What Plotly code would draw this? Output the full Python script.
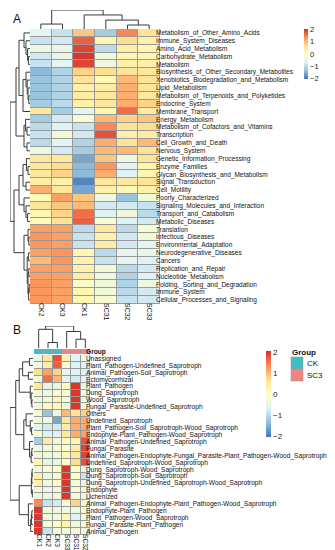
import plotly.graph_objects as go

W, H = 335, 550

# ---------------- Panel A data ----------------
cols_A = ["CK2", "CK3", "CK1", "SC31", "SC32", "SC33"]
rows_A = [
    "Metabolism_of_Other_Amino_Acids", "Immune_System_Diseases", "Amino_Acid_Metabolism",
    "Carbohydrate_Metabolism", "Metabolism", "Biosynthesis_of_Other_Secondary_Metabolites",
    "Xenobiotics_Biodegradation_and_Metabolism", "Lipid_Metabolism",
    "Metabolism_of_Terpenoids_and_Polyketides", "Endocrine_System", "Membrane_Transport",
    "Energy_Metabolism", "Metabolism_of_Cofactors_and_Vitamins", "Transcription",
    "Cell_Growth_and_Death", "Nervous_System", "Genetic_Information_Processing",
    "Enzyme_Families", "Glycan_Biosynthesis_and_Metabolism", "Signal_Transduction",
    "Cell_Motility", "Poorly_Characterized", "Signaling_Molecules_and_Interaction",
    "Transport_and_Catabolism", "Metabolic_Diseases", "Translation", "Infectious_Diseases",
    "Environmental_Adaptation", "Neurodegenerative_Diseases", "Cancers",
    "Replication_and_Repair", "Nucleotide_Metabolism", "Folding,_Sorting_and_Degradation",
    "Immune_System", "Cellular_Processes_and_Signaling",
]
vals_A = [
    [-0.6, -0.9, 0.9, -1.2, 1.4, 0.6],
    [-0.9, -0.8, 1.7, 0.2, 0.7, 0.3],
    [-0.4, -0.5, 1.9, -1.0, 0.4, 0.2],
    [-0.8, -0.5, 2.0, -0.3, 0.2, 0.2],
    [-0.9, -0.6, 1.9, -0.4, 0.3, 0.3],
    [-1.4, -1.1, 0.8, 0.7, 0.6, 0.5],
    [-1.3, -1.1, 0.6, 0.1, 1.0, 0.6],
    [-1.3, -1.1, 0.3, 0.4, 1.1, 0.6],
    [-1.3, -1.1, 0.4, 0.5, 1.1, 0.5],
    [-1.2, -1.0, 0.3, 0.5, 1.1, 0.8],
    [0.5, -1.2, -0.6, 0.2, 1.6, 0.4],
    [-1.2, -0.8, -0.2, 1.0, 0.8, 0.9],
    [-1.0, -0.7, -0.9, 1.4, 0.6, 0.7],
    [-0.9, -0.3, -0.8, 1.8, 0.3, 0.4],
    [-1.0, -0.6, -1.1, 1.1, 0.6, 1.0],
    [-0.4, -0.8, -1.2, 1.0, 1.0, 0.6],
    [0.5, 0.5, -1.6, 0.9, -0.4, 0.6],
    [0.5, 0.7, -1.4, 1.3, -0.6, 0.2],
    [0.5, 0.8, -1.4, 1.1, -0.7, 0.2],
    [0.4, 0.3, -1.9, 0.5, 0.5, 0.6],
    [1.1, 0.5, -1.6, 0.3, 0.2, 0.3],
    [0.1, 1.2, 0.9, -0.4, -1.3, -0.3],
    [0.6, 0.9, 1.0, -0.8, -0.8, -0.9],
    [0.2, 0.8, 1.6, -0.7, -0.3, -1.0],
    [0.1, 0.6, 1.7, -0.2, -0.7, -0.8],
    [1.2, 1.2, -1.0, 0.5, -1.0, -0.2],
    [1.3, 1.2, -0.9, 0.3, -0.8, -0.3],
    [1.3, 1.2, -0.9, 0.4, -0.8, -0.6],
    [1.2, 1.3, 0.2, -1.0, -0.6, -0.5],
    [1.0, 1.3, 0.3, -0.9, -0.6, -0.7],
    [1.2, 1.2, 0.3, -0.3, -1.0, -0.8],
    [1.2, 1.2, 0.4, -0.4, -1.1, -0.7],
    [1.3, 1.2, -0.1, -0.3, -1.1, -0.4],
    [1.3, 1.2, 0.2, -0.3, -1.0, -0.8],
    [1.3, 1.2, 0.2, -0.2, -0.9, -0.8],
]
# linkage lists: (child_a, child_b, height); leaves 0..n-1, merge k -> n+k
col_link_A = [(0, 1, 0.26), (4, 5, 0.21), (3, 7, 0.47), (2, 8, 0.74), (6, 9, 1.0)]
row_link_A = [
    (3, 4, 0.08), (2, 35, 0.12), (1, 36, 0.2), (0, 37, 0.3),          # 35-38
    (8, 9, 0.06), (7, 39, 0.1), (6, 40, 0.14), (5, 41, 0.2),          # 39-42
    (42, 10, 0.35), (38, 43, 0.55),                                    # 43-44
    (12, 13, 0.15), (11, 45, 0.22), (14, 15, 0.15), (46, 47, 0.3),    # 45-48
    (44, 48, 0.7),                                                     # 49
    (17, 18, 0.1), (16, 50, 0.18), (19, 20, 0.2), (51, 52, 0.35),     # 50-53
    (23, 24, 0.12), (22, 54, 0.2), (21, 55, 0.3), (53, 56, 0.55),     # 54-57
    (26, 27, 0.06), (25, 58, 0.1), (28, 29, 0.08), (30, 31, 0.06),    # 58-61
    (32, 33, 0.04), (62, 34, 0.07), (61, 63, 0.1), (60, 64, 0.14),    # 62-65
    (59, 65, 0.3), (57, 66, 0.8), (49, 67, 1.0),                      # 66-68
]

# ---------------- Panel B data ----------------
cols_B = ["CK1", "CK2", "CK3", "SC33", "SC31", "SC32"]
groups_B = ["CK", "CK", "CK", "SC3", "SC3", "SC3"]
group_names = ["CK", "SC3"]
group_colors = ["#3FBEC5", "#F2847F"]
rows_B = [
    "Unassigned", "Plant_Pathogen-Undefined_Saprotroph", "Animal_Pathogen-Soil_Saprotroph",
    "Ectomycorrhizal", "Plant_Pathogen", "Dung_Saprotroph", "Wood_Saprotroph",
    "Fungal_Parasite-Undefined_Saprotroph", "Others", "Undefined_Saprotroph",
    "Plant_Pathogen-Soil_Saprotroph-Wood_Saprotroph", "Endophyte-Plant_Pathogen-Wood_Saprotroph",
    "Animal_Pathogen-Undefined_Saprotroph", "Fungal_Parasite",
    "Animal_Pathogen-Endophyte-Fungal_Parasite-Plant_Pathogen-Wood_Saprotroph",
    "Undefined_Saprotroph-Wood_Saprotroph", "Dung_Saprotroph-Wood_Saprotroph",
    "Dung_Saprotroph-Soil_Saprotroph", "Dung_Saprotroph-Undefined_Saprotroph-Wood_Saprotroph",
    "Endophyte", "Lichenized", "Animal_Pathogen-Endophyte-Plant_Pathogen-Wood_Saprotroph",
    "Endophyte-Plant_Pathogen", "Plant_Pathogen-Wood_Saprotroph",
    "Fungal_Parasite-Plant_Pathogen", "Animal_Pathogen",
]
vals_B = [
    [-0.5, 0.5, 1.8, 0.3, -0.7, -0.4],
    [-0.3, 0.3, 1.7, -0.2, -0.7, -0.7],
    [0.7, 1.2, 0.8, -0.6, -0.7, -0.7],
    [-0.3, 1.6, 1.0, -0.6, -0.8, -0.6],
    [0.5, -0.5, -0.5, 0.1, 2.0, -0.5],
    [-0.3, -0.4, -0.2, -0.2, 2.0, -0.4],
    [-0.3, -0.3, 0.2, -0.2, 2.0, -0.5],
    [-0.3, 0.1, 0.1, -0.3, 2.0, -0.4],
    [-0.3, -1.3, -0.4, 1.0, 0.6, 0.8],
    [-0.3, -0.4, -1.6, 0.5, 1.1, 1.1],
    [-0.5, -0.8, -0.8, 0.4, 1.1, 1.1],
    [-0.2, -0.7, -0.7, 0.5, 1.1, 1.2],
    [-1.2, 0.4, -0.3, 0.1, 0.2, 1.8],
    [-0.4, -0.3, -0.2, -0.1, 0.4, 1.9],
    [-0.3, -0.3, -0.3, 0.1, 0.5, 1.9],
    [0.2, -0.5, -0.5, -0.1, 0.7, 1.8],
    [-0.3, -0.2, -0.1, 2.0, -0.1, -0.5],
    [0.3, -0.4, -0.2, 2.0, -0.1, -0.9],
    [0.3, -0.3, -0.1, 2.0, -0.3, -0.5],
    [-0.3, -0.5, -0.3, 2.0, -0.2, -0.3],
    [-0.4, -0.4, -0.4, 2.0, -0.3, -0.4],
    [1.4, -0.9, -0.8, -0.2, 0.8, -0.3],
    [2.0, -0.3, -0.4, -0.4, -0.4, -0.3],
    [2.0, -0.3, -0.3, 0.2, -0.7, -0.4],
    [2.0, -0.2, -0.1, 0.3, -0.3, -0.3],
    [2.0, -0.9, -0.3, -0.3, -0.3, -0.4],
]
col_link_B = [(1, 2, 0.25), (0, 6, 0.85), (4, 5, 0.4), (3, 8, 0.75), (7, 9, 1.0)]
row_link_B = [
    (0, 1, 0.15), (2, 3, 0.2), (26, 27, 0.45),                        # 26-28
    (6, 7, 0.05), (5, 29, 0.08), (4, 30, 0.12), (28, 31, 0.6),        # 29-32
    (10, 11, 0.06), (9, 33, 0.12), (8, 34, 0.3),                      # 33-35
    (13, 14, 0.05), (15, 36, 0.08), (12, 37, 0.15), (35, 38, 0.4),    # 36-39
    (32, 39, 0.75),                                                    # 40
    (16, 17, 0.04), (18, 41, 0.05), (19, 20, 0.03), (42, 43, 0.07),   # 41-44
    (22, 23, 0.05), (24, 45, 0.07), (25, 46, 0.1), (21, 47, 0.2),     # 45-48
    (44, 48, 0.6), (40, 49, 1.0),                                      # 49-50
]

colors7 = ["#4575B4", "#91BFDB", "#E0F3F8", "#FFFFBF", "#FEE090", "#FC8D59", "#D73027"]
cscale = [[i / 6, c] for i, c in enumerate(colors7)]
BORDER = "#9A9A9A"
FONT = "Liberation Sans, Arial, sans-serif"
FS_A = 6.5
FS_B = 6.6


def fx(p):
    return p / W


def fy(p):
    return 1 - p / H


def dendro_xy(link, n):
    pos = {i: float(i) for i in range(n)}
    hgt = {i: 0.0 for i in range(n)}
    P, Hh = [], []
    for k, (a, b, h) in enumerate(link):
        P += [pos[a], pos[a], pos[b], pos[b], None]
        Hh += [hgt[a], h, h, hgt[b], None]
        pos[n + k] = (pos[a] + pos[b]) / 2
        hgt[n + k] = h
    return P, Hh


fig = go.Figure()
line_style = dict(color="#3a3a3a", width=1)

# ---- Panel A heatmap ----
A_x0, A_x1, A_y0, A_y1 = 22, 152, 21, 296
fig.add_trace(go.Heatmap(
    z=vals_A, x=list(range(len(cols_A))), y=list(range(len(rows_A))),
    colorscale=cscale, zmin=-2.05, zmax=2.05, xgap=1, ygap=1,
    xaxis="x", yaxis="y", hoverinfo="skip",
    colorbar=dict(x=fx(296), xanchor="left", y=fy(21), yanchor="top",
                  len=50, lenmode="pixels", thickness=4, thicknessmode="pixels",
                  tickvals=[-2, -1, 0, 1, 2], ticks="", outlinewidth=0,
                  xpad=0, ypad=0, tickfont=dict(size=7.5, family=FONT, color="#222")),
))
px_, py_ = dendro_xy(col_link_A, len(cols_A))
fig.add_trace(go.Scatter(x=px_, y=py_, mode="lines", line=line_style,
                         xaxis="x2", yaxis="y2", hoverinfo="skip", showlegend=False))
px_, py_ = dendro_xy(row_link_A, len(rows_A))
fig.add_trace(go.Scatter(x=py_, y=px_, mode="lines", line=line_style,
                         xaxis="x3", yaxis="y3", hoverinfo="skip", showlegend=False))

# ---- Panel B heatmap ----
B_x0, B_x1, B_y0, B_y1 = 26, 82, 347, 527
fig.add_trace(go.Heatmap(
    z=vals_B, x=list(range(len(cols_B))), y=list(range(len(rows_B))),
    colorscale=cscale, zmin=-2.05, zmax=2.05, xgap=1, ygap=1,
    xaxis="x4", yaxis="y4", hoverinfo="skip",
    colorbar=dict(x=fx(258), xanchor="left", y=fy(343), yanchor="top",
                  len=86, lenmode="pixels", thickness=5, thicknessmode="pixels",
                  tickvals=[-2, -1, 0, 1, 2], ticks="", outlinewidth=0,
                  xpad=0, ypad=0, tickfont=dict(size=8, family=FONT, color="#222")),
))
gz = [[group_names.index(g) for g in groups_B]]
fig.add_trace(go.Heatmap(
    z=gz, x=list(range(len(cols_B))), y=[0],
    colorscale=[[0, group_colors[0]], [0.5, group_colors[0]], [0.5, group_colors[1]], [1, group_colors[1]]],
    zmin=0, zmax=1, showscale=False, xgap=1, xaxis="x5", yaxis="y5", hoverinfo="skip",
))
px_, py_ = dendro_xy(col_link_B, len(cols_B))
fig.add_trace(go.Scatter(x=px_, y=py_, mode="lines", line=line_style,
                         xaxis="x6", yaxis="y6", hoverinfo="skip", showlegend=False))
px_, py_ = dendro_xy(row_link_B, len(rows_B))
fig.add_trace(go.Scatter(x=py_, y=px_, mode="lines", line=line_style,
                         xaxis="x7", yaxis="y7", hoverinfo="skip", showlegend=False))

hidden = dict(showgrid=False, zeroline=False, showline=False, showticklabels=False,
              ticks="", automargin=False)
xt = dict(ticks="", ticklen=0, showgrid=False, zeroline=False, automargin=False,
          ticklabelstandoff=-2)
yt = dict(ticks="", ticklen=0, showgrid=False, zeroline=False, automargin=False,
          ticklabelstandoff=-5)

layout = dict(
    width=W, height=H, margin=dict(l=0, r=0, t=0, b=0),
    paper_bgcolor="white", plot_bgcolor="white", showlegend=False,
    font=dict(family=FONT, color="#111"),
    # panel A heatmap
    xaxis=dict(domain=[fx(A_x0), fx(A_x1)], range=[-0.5, 5.5], tickvals=list(range(6)),
               ticktext=cols_A, tickangle=90, tickfont=dict(size=7), anchor="y", **xt),
    yaxis=dict(domain=[fy(A_y1), fy(A_y0)], range=[len(rows_A) - 0.5, -0.5], side="right",
               tickvals=list(range(len(rows_A))), ticktext=rows_A,
               tickfont=dict(size=FS_A), anchor="x", **yt),
    xaxis2=dict(domain=[fx(A_x0), fx(A_x1)], range=[-0.5, 5.5], anchor="y2", **hidden),
    yaxis2=dict(domain=[fy(A_y0), fy(2)], range=[0, 1.0], anchor="x2", **hidden),
    xaxis3=dict(domain=[fx(2), fx(A_x0)], range=[1.0, 0], anchor="y3", **hidden),
    yaxis3=dict(domain=[fy(A_y1), fy(A_y0)], range=[len(rows_A) - 0.5, -0.5], anchor="x3", **hidden),
    # panel B heatmap
    xaxis4=dict(domain=[fx(B_x0), fx(B_x1)], range=[-0.5, 5.5], tickvals=list(range(6)),
                ticktext=cols_B, tickangle=90, tickfont=dict(size=6.6), anchor="y4", **xt),
    yaxis4=dict(domain=[fy(B_y1), fy(B_y0)], range=[len(rows_B) - 0.5, -0.5], side="right",
                tickvals=list(range(len(rows_B))), ticktext=rows_B,
                tickfont=dict(size=FS_B), anchor="x4", **yt),
    xaxis5=dict(domain=[fx(B_x0), fx(B_x1)], range=[-0.5, 5.5], anchor="y5", **hidden),
    yaxis5=dict(domain=[fy(346), fy(341)], range=[-0.5, 0.5], anchor="x5", side="right",
                tickvals=[0], ticktext=["<b>Group</b>"], tickfont=dict(size=FS_B), **yt),
    xaxis6=dict(domain=[fx(B_x0), fx(B_x1)], range=[-0.5, 5.5], anchor="y6", **hidden),
    yaxis6=dict(domain=[fy(340), fy(318)], range=[0, 1.0], anchor="x6", **hidden),
    xaxis7=dict(domain=[fx(2), fx(25)], range=[1.0, 0], anchor="y7", **hidden),
    yaxis7=dict(domain=[fy(B_y1), fy(B_y0)], range=[len(rows_B) - 0.5, -0.5], anchor="x7", **hidden),
)
fig.update_layout(**layout)

shapes = []
for xr, yr, nc, nr in [("x", "y", len(cols_A), len(rows_A)), ("x4", "y4", len(cols_B), len(rows_B)),
                       ("x5", "y5", len(cols_B), 1)]:
    y0, y1 = -0.5, nr - 0.5
    shapes.append(dict(type="rect", xref=xr, yref=yr, x0=-0.5, x1=nc - 0.5, y0=y0, y1=y1,
                       fillcolor=BORDER, line=dict(color=BORDER, width=1), layer="below"))
# group legend swatches
for i, (g, c) in enumerate(zip(group_names, group_colors)):
    shapes.append(dict(type="rect", xref="paper", yref="paper",
                       x0=fx(283), x1=fx(295), y0=fy(361 + 12 * i), y1=fy(349 + 12 * i),
                       fillcolor=c, line=dict(color=BORDER, width=0.5)))
fig.update_layout(shapes=shapes)

ann = [
    dict(text="A", x=fx(3), y=fy(11), xref="paper", yref="paper", showarrow=False,
         xanchor="left", yanchor="middle", font=dict(size=12)),
    dict(text="B", x=fx(3), y=fy(322), xref="paper", yref="paper", showarrow=False,
         xanchor="left", yanchor="middle", font=dict(size=12)),
    dict(text="<b>Group</b>", x=fx(282), y=fy(344), xref="paper", yref="paper", showarrow=False,
         xanchor="left", yanchor="middle", font=dict(size=8)),
]
for i, g in enumerate(group_names):
    ann.append(dict(text=g, x=fx(297), y=fy(355 + 12 * i), xref="paper", yref="paper",
                    showarrow=False, xanchor="left", yanchor="middle", font=dict(size=8)))
fig.update_layout(annotations=ann)

fig.write_html("out.html")
